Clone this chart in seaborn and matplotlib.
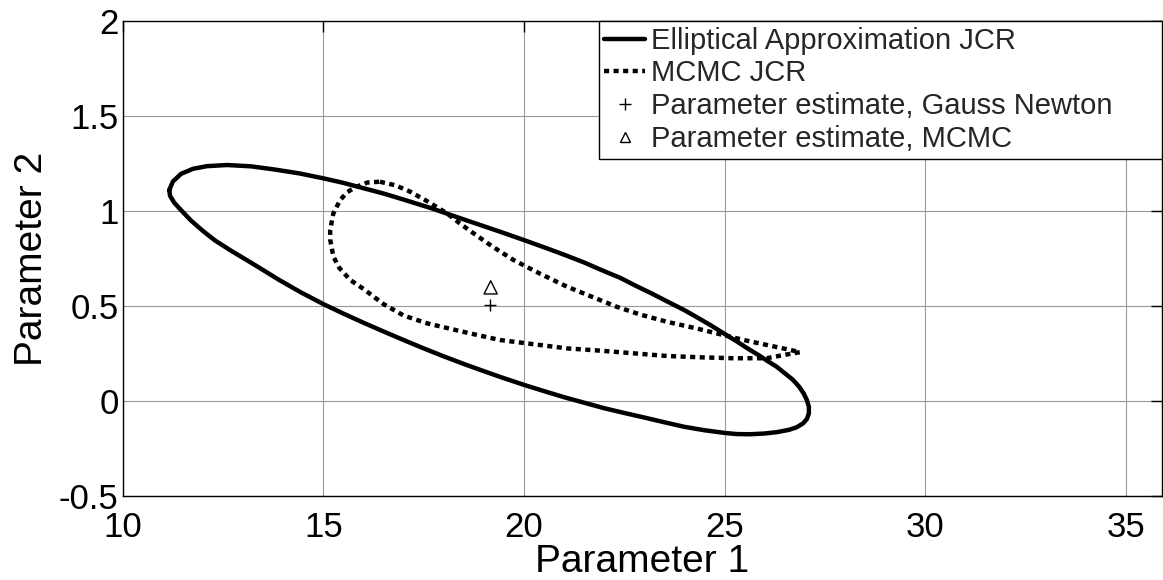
import matplotlib
matplotlib.use("Agg")
import matplotlib.pyplot as plt
import seaborn as sns
from matplotlib.lines import Line2D

# ---- data ----
ellipse_x = [11.16, 11.25, 11.45, 11.75, 12.1, 12.6, 13.2, 13.8, 14.4, 15.0, 15.5, 16.0,
             16.5, 17.0, 17.7, 18.3, 19.0, 19.5, 20.0, 20.5, 21.0, 21.5, 21.9, 22.4,
             22.8, 23.2, 23.56, 24.0, 24.3, 24.65, 24.97, 25.3, 25.6, 25.85, 26.05, 26.3,
             26.5, 26.7, 26.85, 26.97, 27.05, 27.1, 27.1, 27.05, 26.96, 26.8, 26.6, 26.3,
             26.0, 25.64, 25.3, 25.0, 24.5, 24.0, 23.5, 23.0, 22.5, 22.0, 21.5, 21.0,
             20.5, 20.0, 19.5, 19.0, 18.5, 18.0, 17.5, 17.0, 16.5, 16.0, 15.5, 15.0,
             14.43, 13.9, 13.3, 12.67, 12.3, 12.0, 11.7, 11.43, 11.28, 11.18, 11.16]
ellipse_y = [1.11, 1.155, 1.195, 1.222, 1.236, 1.242, 1.235, 1.218, 1.198, 1.172, 1.148, 1.12,
             1.092, 1.06, 1.014, 0.97, 0.92, 0.884, 0.847, 0.809, 0.77, 0.729, 0.692, 0.648,
             0.605, 0.564, 0.525, 0.478, 0.442, 0.399, 0.357, 0.314, 0.273, 0.241, 0.213, 0.18,
             0.146, 0.112, 0.077, 0.04, 0.005, -0.03, -0.065, -0.095, -0.117, -0.138, -0.152, -0.164,
             -0.171, -0.175, -0.174, -0.168, -0.154, -0.136, -0.112, -0.087, -0.063, -0.038, -0.009, 0.02,
             0.052, 0.085, 0.12, 0.157, 0.195, 0.235, 0.277, 0.321, 0.366, 0.412, 0.46, 0.51,
             0.573, 0.637, 0.715, 0.795, 0.845, 0.895, 0.95, 1.01, 1.045, 1.08, 1.11]

mcmc_x = [16.41, 16.8, 17.16, 17.6, 18.08, 18.4, 18.74, 19.2, 19.74, 20.4, 21.07, 21.7,
          22.31, 22.9, 23.56, 24.3, 24.97, 25.5, 26.05, 26.5, 26.88,
          26.47, 26.05, 25.22, 24.39, 23.56, 22.73, 21.9, 21.07, 20.2, 19.4, 18.57, 17.58,
          17.0, 16.5, 16.0, 15.67, 15.4, 15.25, 15.17, 15.17, 15.25, 15.42, 15.6, 15.83,
          16.1, 16.41]
mcmc_y = [1.154, 1.135, 1.102, 1.05, 0.988, 0.935, 0.883, 0.815, 0.742, 0.67, 0.602, 0.548,
          0.496, 0.455, 0.417, 0.382, 0.347, 0.32, 0.295, 0.275, 0.257,
          0.242, 0.225, 0.225, 0.23, 0.237, 0.251, 0.265, 0.277, 0.30, 0.321, 0.36, 0.409,
          0.45, 0.51, 0.59, 0.637, 0.70, 0.76, 0.85, 0.90, 0.988, 1.058, 1.10, 1.128,
          1.15, 1.154]

gn_x = [19.16]
gn_y = [0.505]
mc_x = [19.17]
mc_y = [0.598]

labels = ["Elliptical Approximation JCR", "MCMC JCR",
          "Parameter estimate, Gauss Newton", "Parameter estimate, MCMC"]
xticks = [10, 15, 20, 25, 30, 35]
yticks = [-0.5, 0, 0.5, 1, 1.5, 2]
ytick_labels = ["-0.5", "0", "0.5", "1", "1.5", "2"]

# ---- style ----
sns.set_theme(style="white")
plt.rcParams["font.family"] = ["Liberation Sans", "DejaVu Sans"]

W, H = 1163, 580
ax_l, ax_r, ax_t, ax_b = 122.7, 1162.0, 21.0, 496.0
fig = plt.figure(figsize=(W / 100, H / 100), dpi=100)
ax = fig.add_axes([ax_l / W, 1 - ax_b / H, (ax_r - ax_l) / W, (ax_b - ax_t) / H])
axw, axh = ax_r - ax_l, ax_b - ax_t

lw = 3.2
dot_style = (0, (1.15, 1.0))

sns.lineplot(x=ellipse_x, y=ellipse_y, sort=False, estimator=None, ax=ax,
             color="black", linewidth=lw)
sns.lineplot(x=mcmc_x, y=mcmc_y, sort=False, estimator=None, ax=ax,
             color="black", linewidth=lw, linestyle=dot_style)
ax.lines[-1].set_dash_capstyle("butt")
sns.scatterplot(x=gn_x, y=gn_y, ax=ax, marker="+", s=75, color="black", linewidth=1.0)
sns.scatterplot(x=mc_x, y=mc_y, ax=ax, marker="^", s=90, facecolor="none",
                edgecolor="black", linewidth=1.0)

ax.set_xlim(10, 35.9)
ax.set_ylim(-0.5, 2)
ax.set_xticks(xticks)
ax.set_xticklabels([str(t) for t in xticks])
ax.set_yticks(yticks)
ax.set_yticklabels(ytick_labels)

ax.grid(True, color="#9a9a9a", linewidth=0.8)
ax.set_axisbelow(True)
for s in ax.spines.values():
    s.set_visible(True)
    s.set_color("black")
    s.set_linewidth(1.0)

ax.tick_params(axis="both", direction="in", length=8, width=1, colors="black",
               top=True, right=True, labelsize=25)
ax.tick_params(axis="x", pad=11)
ax.tick_params(axis="y", pad=3)

ax.set_xlabel("Parameter 1", fontsize=28, color="black")
ax.set_ylabel("Parameter 2", fontsize=28, color="black")
ax.xaxis.label.set_va("baseline")
ax.yaxis.label.set_va("baseline")
ax.xaxis.set_label_coords(0.5, -(572 - ax_b) / axh)
ax.yaxis.set_label_coords((41.5 - ax_l) / axw, 0.5)

handles = [
    Line2D([], [], color="black", linewidth=lw),
    Line2D([], [], color="black", linewidth=lw, linestyle=dot_style, dash_capstyle="butt"),
    Line2D([], [], color="black", marker="+", linestyle="none", markersize=8, markeredgewidth=1.0),
    Line2D([], [], color="black", marker="^", linestyle="none", markersize=7,
           markerfacecolor="none", markeredgewidth=1.0),
]
leg_x0 = (598.6 - ax_l) / axw
leg = ax.legend(handles, labels, loc="upper left", bbox_to_anchor=(leg_x0, 0, 1 - leg_x0, 1),
                mode="expand", fontsize=21, frameon=True, fancybox=False, framealpha=1,
                edgecolor="black", borderaxespad=0, borderpad=0.2, handlelength=1.4,
                handletextpad=0.2, labelspacing=0.16)
leg.get_frame().set_linewidth(1.0)

fig.savefig("out.png", dpi=100)
